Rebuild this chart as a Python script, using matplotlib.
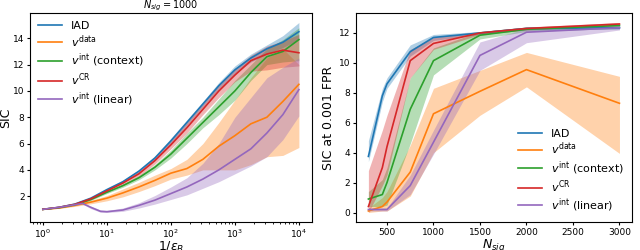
import numpy as np
import matplotlib.pyplot as plt

# left panel: SIC vs 1/eps_B, N_sig = 1000
log_inv_eps = [0, 0.25, 0.5, 0.75, 1.0, 1.25, 1.5, 1.75, 2.0, 2.25, 2.5, 2.75, 3.0, 3.25, 3.5, 3.75, 4.0]
iad = [1.0, 1.15, 1.4, 1.85, 2.5, 3.1, 3.9, 4.9, 6.2, 7.6, 9.0, 10.4, 11.6, 12.5, 13.2, 13.7, 14.5]
iad_lo = [1.0, 1.12, 1.35, 1.8, 2.42, 3.0, 3.8, 4.75, 6.0, 7.4, 8.8, 10.15, 11.3, 12.2, 12.8, 13.3, 13.9]
iad_hi = [1.0, 1.18, 1.45, 1.9, 2.58, 3.2, 4.0, 5.05, 6.4, 7.8, 9.2, 10.65, 11.9, 12.8, 13.5, 14.2, 15.2]
cr = [1.0, 1.15, 1.38, 1.8, 2.4, 3.0, 3.7, 4.7, 5.9, 7.2, 8.6, 10.0, 11.2, 12.3, 12.8, 13.1, 12.9]
cr_lo = [1.0, 1.12, 1.33, 1.72, 2.3, 2.85, 3.5, 4.45, 5.6, 6.8, 8.2, 9.5, 10.7, 11.5, 11.6, 11.8, 11.9]
cr_hi = [1.0, 1.18, 1.43, 1.88, 2.5, 3.15, 3.9, 4.95, 6.2, 7.6, 9.0, 10.5, 11.7, 12.7, 13.4, 13.8, 14.3]
ctx = [1.0, 1.13, 1.35, 1.75, 2.3, 2.8, 3.4, 4.2, 5.2, 6.4, 7.6, 8.8, 10.0, 11.4, 12.6, 13.0, 13.9]
ctx_lo = [1.0, 1.1, 1.3, 1.68, 2.2, 2.68, 3.25, 4.0, 4.9, 6.0, 7.2, 8.2, 9.3, 10.8, 12.0, 12.2, 12.3]
ctx_hi = [1.0, 1.16, 1.4, 1.82, 2.4, 2.92, 3.55, 4.4, 5.5, 6.8, 8.0, 9.4, 10.8, 12.0, 13.2, 13.9, 14.8]
data = [1.0, 1.1, 1.3, 1.55, 1.85, 2.25, 2.7, 3.2, 3.75, 4.1, 4.8, 5.8, 6.6, 7.5, 8.0, 9.2, 10.5]
data_lo = [1.0, 1.07, 1.22, 1.42, 1.65, 1.95, 2.35, 2.8, 3.3, 3.6, 4.0, 4.0, 4.0, 4.4, 5.0, 5.1, 5.7]
data_hi = [1.0, 1.13, 1.38, 1.68, 2.05, 2.55, 3.05, 3.6, 4.1, 4.8, 6.0, 7.6, 9.3, 11.0, 12.5, 13.2, 12.0]
# linear variant has a dip near 1/eps ~ 10, so it gets its own grid
log_inv_eps_lin = [0, 0.25, 0.5, 0.62, 0.75, 0.9, 1.0, 1.25, 1.5, 1.75, 2.0, 2.25, 2.5, 2.75, 3.0, 3.25, 3.5, 3.75, 4.0]
lin = [1.0, 1.15, 1.35, 1.45, 1.15, 0.85, 0.82, 0.95, 1.3, 1.7, 2.2, 2.7, 3.3, 4.0, 4.8, 5.6, 6.8, 8.2, 10.1]
lin_lo = [1.0, 1.12, 1.3, 1.4, 1.05, 0.78, 0.76, 0.85, 1.1, 1.4, 1.75, 2.1, 2.6, 3.1, 3.7, 4.3, 5.0, 6.3, 8.1]
lin_hi = [1.0, 1.18, 1.4, 1.5, 1.25, 0.95, 0.92, 1.1, 1.5, 2.05, 2.7, 3.4, 4.5, 6.0, 8.0, 9.5, 11.0, 11.8, 12.5]

# right panel: SIC at 0.001 FPR vs N_sig
n_sig = [300, 450, 500, 750, 1000, 1500, 2000, 3000]
r_iad = [3.75, 7.8, 8.6, 10.75, 11.7, 12.0, 12.3, 12.35]
r_iad_lo = [3.4, 7.4, 8.3, 10.45, 11.5, 11.9, 12.2, 12.25]
r_iad_hi = [4.8, 8.3, 9.0, 11.2, 11.9, 12.1, 12.4, 12.45]
r_data = [0.1, 0.4, 0.7, 2.7, 6.6, 8.1, 9.55, 7.3]
r_data_lo = [0.0, 0.1, 0.1, 1.1, 4.0, 6.5, 8.4, 3.95]
r_data_hi = [0.3, 1.0, 1.4, 4.5, 8.3, 9.5, 10.7, 9.1]
r_ctx = [0.9, 1.2, 2.0, 6.9, 10.15, 11.85, 12.25, 12.5]
r_ctx_lo = [0.4, 0.4, 0.5, 4.6, 9.2, 11.6, 12.1, 12.3]
r_ctx_hi = [1.4, 2.2, 3.0, 9.0, 11.0, 12.1, 12.4, 12.6]
r_cr = [0.4, 3.0, 4.4, 10.15, 11.3, 12.0, 12.3, 12.6]
r_cr_lo = [0.0, 1.8, 2.5, 9.0, 10.9, 11.9, 12.2, 12.5]
r_cr_hi = [2.8, 5.5, 6.5, 10.9, 11.7, 12.1, 12.4, 12.7]
r_lin = [0.2, 0.2, 0.2, 1.8, 4.7, 10.5, 12.05, 12.35]
r_lin_lo = [0.1, 0.1, 0.1, 1.2, 3.9, 9.5, 11.35, 12.2]
r_lin_hi = [0.3, 0.3, 0.3, 2.5, 5.5, 11.4, 12.3, 12.5]

labels = ['IAD', r'$v^{\rm data}$', r'$v^{\rm int}$ (context)', r'$v^{\rm CR}$', r'$v^{\rm int}$ (linear)']
colors = ['C0', 'C1', 'C2', 'C3', 'C4']

fig = plt.figure(figsize=(6.4, 2.5), dpi=100)
ax1 = fig.add_axes([0.047, 0.112, 0.44, 0.836])
ax2 = fig.add_axes([0.556, 0.112, 0.4315, 0.836])

x1 = 10 ** np.array(log_inv_eps)
x1_lin = 10 ** np.array(log_inv_eps_lin)
left = [(x1, iad, iad_lo, iad_hi), (x1, data, data_lo, data_hi), (x1, ctx, ctx_lo, ctx_hi),
        (x1, cr, cr_lo, cr_hi), (x1_lin, lin, lin_lo, lin_hi)]
for (x, m, lo, hi), lab, c in zip(left, labels, colors):
    ax1.plot(x, m, color=c, lw=1.2, label=lab)
    ax1.fill_between(x, lo, hi, color=c, alpha=0.35, lw=0)
ax1.set_xscale('log')
ax1.set_xlabel(r'$1/\epsilon_B$', fontsize=9, labelpad=0)
ax1.set_ylabel('SIC', fontsize=9, labelpad=1)
ax1.set_title(r'$N_{sig} = 1000$', fontsize=7, pad=2)
ax1.set_yticks([2, 4, 6, 8, 10, 12, 14])
ax1.tick_params(labelsize=6.5, pad=1.5, length=2.5)
ax1.tick_params(which='minor', length=1.5)
ax1.legend(loc='upper left', frameon=False, fontsize=8, handlelength=2.2,
           labelspacing=0.2, borderaxespad=0.3)

right = [(r_iad, r_iad_lo, r_iad_hi), (r_data, r_data_lo, r_data_hi), (r_ctx, r_ctx_lo, r_ctx_hi),
         (r_cr, r_cr_lo, r_cr_hi), (r_lin, r_lin_lo, r_lin_hi)]
for (m, lo, hi), lab, c in zip(right, labels, colors):
    ax2.plot(n_sig, m, color=c, lw=1.2, label=lab)
    ax2.fill_between(n_sig, lo, hi, color=c, alpha=0.35, lw=0)
ax2.set_xlabel(r'$N_{sig}$', fontsize=9, labelpad=0)
ax2.set_ylabel('SIC at 0.001 FPR', fontsize=9, labelpad=3)
ax2.tick_params(labelsize=6.5, pad=1.5, length=2.5)
ax2.legend(loc='lower right', frameon=False, fontsize=8, handlelength=2.2,
           labelspacing=0.15, borderaxespad=0.3)

fig.savefig('out.png', dpi=100)
